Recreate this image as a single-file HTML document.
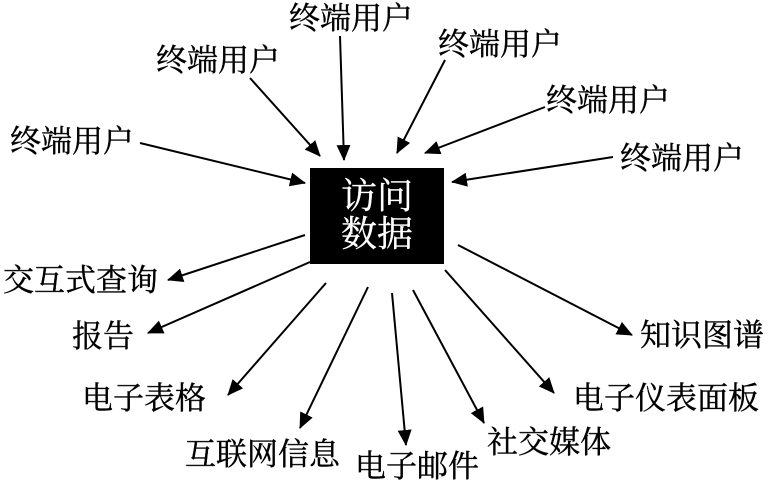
<!DOCTYPE html>
<html><head><meta charset="utf-8"><style>
html,body{margin:0;padding:0;background:#fff;}
svg text{font-family:"Noto Serif CJK SC","WenQuanYi Zen Hei",serif;font-size:31px;fill:#000;stroke:#000;stroke-width:0.4;}
</style></head><body>
<svg width="768" height="490" viewBox="0 0 768 490" xmlns="http://www.w3.org/2000/svg">
<defs><marker id="b" markerWidth="16" markerHeight="14" refX="15" refY="7" orient="auto" markerUnits="userSpaceOnUse" viewBox="0 0 16 14"><path d="M0,0 L16,7 L0,14 Z" fill="#000"/></marker></defs>
<g stroke="#000" stroke-width="2" marker-end="url(#b)" fill="none">
<line x1="340" y1="36" x2="344" y2="160"/>
<line x1="250" y1="78" x2="320" y2="156"/>
<line x1="445" y1="60" x2="397" y2="153"/>
<line x1="545" y1="107" x2="425" y2="153"/>
<line x1="613" y1="157" x2="452" y2="182"/>
<line x1="140" y1="143" x2="305" y2="183"/>
<line x1="305" y1="235" x2="168" y2="280"/>
<line x1="310" y1="262" x2="148" y2="333"/>
<line x1="326" y1="283" x2="228" y2="395"/>
<line x1="368" y1="287" x2="300" y2="428"/>
<line x1="392" y1="293" x2="406" y2="445"/>
<line x1="413" y1="290" x2="484" y2="423"/>
<line x1="445" y1="270" x2="554" y2="393"/>
<line x1="458" y1="245" x2="632" y2="335"/>
</g>
<rect x="310" y="168" width="134" height="96" fill="#000"/>
<text x="377" y="208" text-anchor="middle" style="font-size:36px;fill:#fff;stroke:#fff;stroke-width:0.3">访问</text>
<text x="377" y="246" text-anchor="middle" style="font-size:36px;fill:#fff;stroke:#fff;stroke-width:0.3">数据</text>
<text x="289" y="29">终端用户</text>
<text x="156" y="71">终端用户</text>
<text x="438" y="55">终端用户</text>
<text x="546" y="111">终端用户</text>
<text x="620" y="169">终端用户</text>
<text x="10" y="152">终端用户</text>
<text x="3" y="291">交互式查询</text>
<text x="72" y="347">报告</text>
<text x="82" y="409">电子表格</text>
<text x="185" y="465">互联网信息</text>
<text x="355" y="477">电子邮件</text>
<text x="487" y="453">社交媒体</text>
<text x="573" y="409">电子仪表面板</text>
<text x="640" y="346">知识图谱</text>
</svg>
</body></html>
